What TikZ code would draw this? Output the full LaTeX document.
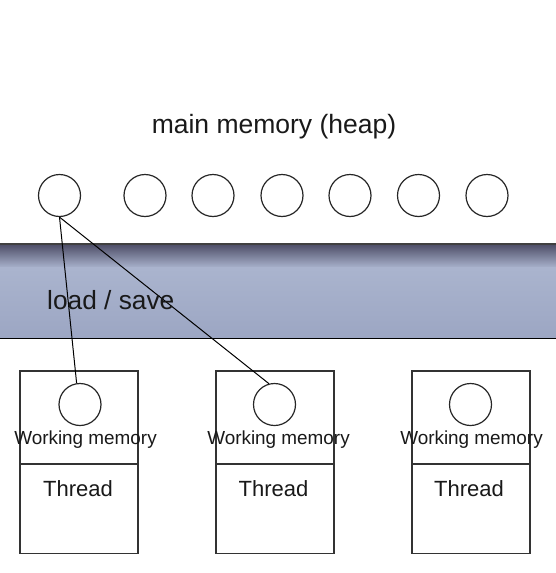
\documentclass[tikz,border=0pt]{standalone}
\usepackage{fontspec}
\setmainfont{Liberation Sans}
\begin{document}
\begin{tikzpicture}[x=1pt,y=-1pt,
  cell/.style={circle,draw=black!85,line width=1.2pt,minimum size=42pt,inner sep=0pt},
  thbox/.style={draw=black!80,line width=1.5pt},
  lbl/.style={inner sep=0pt,anchor=base,text=black!90}]
\useasboundingbox (0,0) rectangle (556,573);
\fill[white] (0,0) rectangle (556,573);
% band
\shade[top color=black!75!blue!40!gray, bottom color={rgb,255:red,170;green,180;blue,206}] (0,244) rectangle (556,268);
\shade[top color={rgb,255:red,170;green,180;blue,206}, bottom color={rgb,255:red,156;green,166;blue,195}] (0,267.5) rectangle (556,338);
\draw[black!75,line width=2pt] (0,244) -- (556,244);
\draw[black,line width=0.9pt] (0,338.5) -- (556,338.5);
% title
\node[lbl,font=\fontsize{26.5}{31}\selectfont] (title) at (274,133) {main memory (heap)};
% heap cells
\node[cell] (t1) at (59.5,195.5) {};
\node[cell] (t2) at (145,195.5) {};
\node[cell] (t3) at (213,195.5) {};
\node[cell] (t4) at (282,195.5) {};
\node[cell] (t5) at (350,195.5) {};
\node[cell] (t6) at (418.5,195.5) {};
\node[cell] (t7) at (487,195.5) {};
% thread boxes
\foreach \i/\x in {1/20,2/216,3/412}{
  \draw[thbox] (\x,371) rectangle (\x+118,553.5);
  \draw[thbox] (\x,464) -- (\x+118,464);
}
\node[cell] (w1) at (80,404.5) {};
\node[cell] (w2) at (274.5,404.5) {};
\node[cell] (w3) at (470.5,404.5) {};
\node[lbl,font=\fontsize{18.9}{22}\selectfont] (wm1) at (85.5,444) {Working memory};
\node[lbl,font=\fontsize{18.9}{22}\selectfont] (wm2) at (278.5,444) {Working memory};
\node[lbl,font=\fontsize{18.9}{22}\selectfont] (wm3) at (471.5,444) {Working memory};
\node[lbl,font=\fontsize{22}{26}\selectfont] (th1) at (78,496) {Thread};
\node[lbl,font=\fontsize{22}{26}\selectfont] (th2) at (273.5,496) {Thread};
\node[lbl,font=\fontsize{22}{26}\selectfont] (th3) at (469,496) {Thread};
% connectors
\draw[black,line width=1pt] (t1.south) -- (w1.99);
\draw[black,line width=1pt] (t1.south) -- (w2.105);
\node[lbl,anchor=base west,font=\fontsize{26.3}{30}\selectfont] (ls) at (47,309) {load / save};
\end{tikzpicture}
\end{document}
